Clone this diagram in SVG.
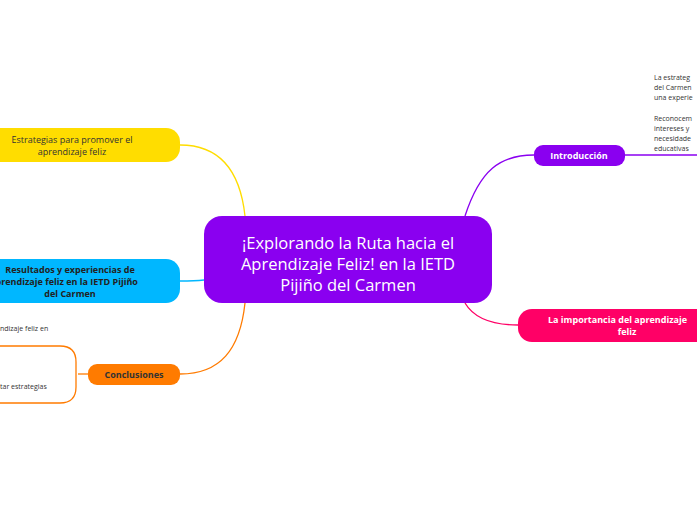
<svg xmlns="http://www.w3.org/2000/svg" width="697" height="520" viewBox="0 0 697 520">
<style>
text{font-family:"Open Sans","Liberation Sans",sans-serif}
.c{fill:none;stroke-width:1.3}
.s{font-size:7px;fill:#333}
.b{font-size:9px;font-weight:bold;text-anchor:middle}
</style>
<rect width="697" height="520" fill="#fff"/>
<g id="connectors">
<path class="c" stroke="#ffdd00" d="M245,216 C240,170 220,145 180,145"/>
<path class="c" stroke="#00b7ff" d="M204,280 C195,281 190,281 180,281"/>
<path class="c" stroke="#ff7b00" d="M245,303 C240,350 220,374 180,374"/>
<path class="c" stroke="#8a00f0" d="M465,216 C480,170 500,155 534,155"/>
<path class="c" stroke="#8a00f0" d="M625,155 L697,155"/>
<path class="c" stroke="#ff0066" d="M465,303 C475,320 495,325 518,325"/>
<path class="c" stroke="#ff7b00" d="M88,374 L78,374"/>
<path class="c" stroke="#ff7b00" d="M0,346 L60,346 Q76,346 76,362 L76,387 Q76,403 60,403 L0,403"/>
</g>
<g id="central">
<rect x="204" y="216" width="288" height="87" rx="18" fill="#8a00f0"/>
<text x="348" y="249" font-size="16.5" fill="#fff" text-anchor="middle">¡Explorando la Ruta hacia el</text>
<text x="348" y="270" font-size="16.5" fill="#fff" text-anchor="middle">Aprendizaje Feliz! en la IETD</text>
<text x="348" y="291" font-size="16.5" fill="#fff" text-anchor="middle">Pijiño del Carmen</text>
</g>
<g id="estrategias">
<rect x="-20" y="128" width="200" height="34" rx="14" fill="#ffdd00"/>
<text x="72" y="143" font-size="9" fill="#333" text-anchor="middle">Estrategias para promover el</text>
<text x="72" y="155" font-size="9" fill="#333" text-anchor="middle">aprendizaje feliz</text>
</g>
<g id="resultados">
<rect x="-20" y="259" width="200" height="44" rx="14" fill="#00b7ff"/>
<text x="70" y="273" class="b" fill="#222">Resultados y experiencias de</text>
<text x="64" y="285" class="b" fill="#222">aprendizaje feliz en la IETD Pijiño</text>
<text x="70" y="297" class="b" fill="#222">del Carmen</text>
</g>
<g id="conclusiones">
<rect x="88" y="364" width="92" height="21" rx="9" fill="#ff7b00"/>
<text x="134" y="378" class="b" fill="#333">Conclusiones</text>
<text x="0" y="331" class="s">ndizaje feliz en</text>
<text x="0" y="389" class="s">tar estrategias</text>
</g>
<g id="introduccion">
<rect x="534" y="145" width="91" height="21" rx="9" fill="#8a00f0"/>
<text x="579" y="159" class="b" fill="#fff">Introducción</text>
<text x="654" y="80" class="s">La estrateg</text>
<text x="654" y="90" class="s">del Carmen</text>
<text x="654" y="100" class="s">una experie</text>
<text x="654" y="121" class="s">Reconocem</text>
<text x="654" y="131" class="s">intereses y</text>
<text x="654" y="141" class="s">necesidade</text>
<text x="654" y="151" class="s">educativas</text>
</g>
<g id="importancia">
<rect x="518" y="309" width="200" height="33" rx="14" fill="#ff0066"/>
<text x="548" y="323" font-size="9" font-weight="bold" fill="#fff">La importancia del aprendizaje</text>
<text x="627" y="335" class="b" fill="#fff">feliz</text>
</g>
</svg>
